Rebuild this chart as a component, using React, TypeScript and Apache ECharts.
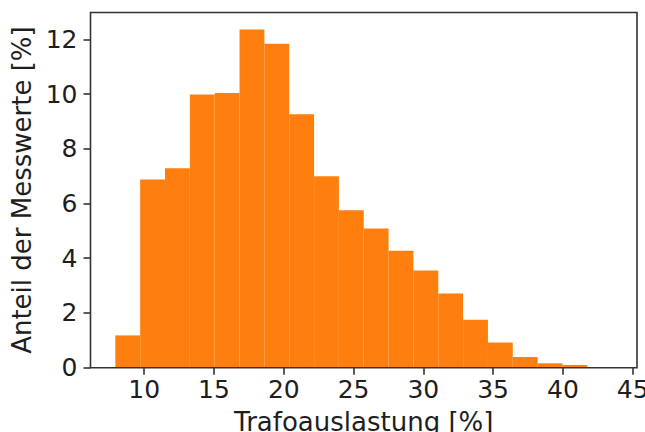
import React, { useEffect, useRef } from "react";
import * as echarts from "echarts";

const binEdges = [7.93, 9.71, 11.49, 13.27, 15.05, 16.83, 18.61, 20.39, 22.17, 23.95, 25.73, 27.51, 29.29, 31.07, 32.85, 34.63, 36.41, 38.19, 39.97, 41.75, 43.53];
const shares = [1.18, 6.88, 7.29, 9.98, 10.04, 12.36, 11.84, 9.26, 7.0, 5.75, 5.09, 4.27, 3.55, 2.71, 1.75, 0.92, 0.39, 0.16, 0.1, 0.02];
const xTicks = [10, 15, 20, 25, 30, 35, 40, 45];
const yTicks = [0, 2, 4, 6, 8, 10, 12];
const xMin = 6.15;
const xMax = 45.31;
const yMax = 12.98;

const FONT = "DejaVu Sans";
const INK = "#1e1e1e";
const FRAME = "#333";

export default function App() {
  const ref = useRef<HTMLDivElement>(null);
  useEffect(() => {
    if (!ref.current) return;
    const chart = echarts.init(ref.current, null, { renderer: "svg" });
    const data = shares.map((v, i) => [binEdges[i], binEdges[i + 1], v]);
    chart.setOption({
      animation: false,
      grid: {
        left: 90.5,
        right: 8,
        top: 12.5,
        bottom: 64.3,
        containLabel: false,
        outerBoundsMode: "none",
        show: true,
        backgroundColor: "transparent",
        borderColor: FRAME,
        borderWidth: 1.6,
        z: 10,
      },
      xAxis: {
        type: "value",
        min: xMin,
        max: xMax,
        splitLine: { show: false },
        axisLine: { show: false },
        axisTick: {
          show: true,
          length: 7,
          customValues: xTicks,
          lineStyle: { color: FRAME, width: 1.6 },
        },
        axisLabel: {
          customValues: xTicks,
          fontFamily: FONT,
          fontSize: 25,
          color: INK,
          margin: 9,
        },
        name: "Trafoauslastung [%]",
        nameLocation: "middle",
        nameGap: 41,
        nameTextStyle: { fontFamily: FONT, fontSize: 26, color: INK },
      },
      yAxis: {
        type: "value",
        min: 0,
        max: yMax,
        splitLine: { show: false },
        axisLine: { show: false },
        axisTick: {
          show: true,
          length: 7,
          customValues: yTicks,
          lineStyle: { color: FRAME, width: 1.6 },
        },
        axisLabel: {
          customValues: yTicks,
          fontFamily: FONT,
          fontSize: 25,
          color: INK,
          margin: 13,
        },
        name: "Anteil der Messwerte [%]",
        nameLocation: "middle",
        nameGap: 50,
        nameTextStyle: { fontFamily: FONT, fontSize: 26, color: INK },
      },
      series: [
        {
          type: "custom",
          data,
          encode: { x: [0, 1], y: 2 },
          renderItem: (params: any, api: any) => {
            const p0 = api.coord([api.value(0), api.value(2)]);
            const p1 = api.coord([api.value(1), 0]);
            return {
              type: "rect",
              shape: { x: p0[0], y: p0[1], width: p1[0] - p0[0], height: p1[1] - p0[1] },
              style: { fill: "#ff7f0e" },
            };
          },
        },
      ],
    });
    return () => chart.dispose();
  }, []);
  return (
    <div
      ref={ref}
      style={{ position: "absolute", left: 0, top: 0, width: 645, height: 432, background: "#fff" }}
    />
  );
}
